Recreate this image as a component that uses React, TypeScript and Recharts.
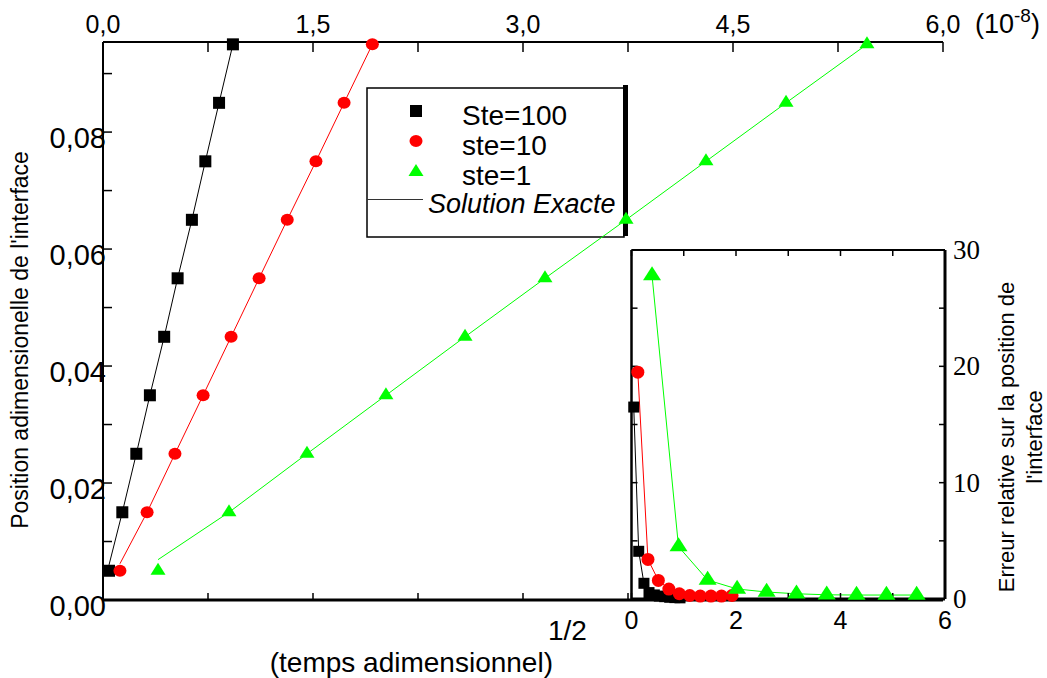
import React from 'react';
import { LineChart, Line, XAxis, YAxis, ReferenceArea, Customized } from 'recharts';

const W = 1047;
const H = 678;
const FONT = '"Liberation Sans", Arial, Helvetica, sans-serif';
const SERIF = '"Liberation Serif", "Times New Roman", serif';

// ---------- labels ----------
const seriesNames = ['Ste=100', 'ste=10', 'ste=1'];
const exactName = 'Solution Exacte';
const leftTitle = "Position adimensionelle de l'interface";
const rightTitle1 = 'Erreur relative sur la position de';
const rightTitle2 = "l'interface";
const bottomTitle = '(temps adimensionnel)';
const bottomExp = '1/2';
const topUnit = '(10';
const topUnitExp = '-8';

// ---------- ticks ----------
const timeTicks = [0, 0.75, 1.5, 2.25, 3, 3.75, 4.5, 5.25, 6];
const timeLabels = [0, 1.5, 3, 4.5, 6];
const posTicks = [0, 0.01, 0.02, 0.03, 0.04, 0.05, 0.06, 0.07, 0.08, 0.09];
const posLabels = [0, 0.02, 0.04, 0.06, 0.08];
const errXTicks = [0, 1, 2, 3, 4, 5, 6];
const errXLabels = [0, 2, 4, 6];
const errYTicks = [0, 5, 10, 15, 20, 25, 30];
const errYLabels = [0, 10, 20, 30];

// ---------- data ----------
const timesBlack = [0.043, 0.138, 0.238, 0.335, 0.437, 0.533, 0.635, 0.731, 0.829, 0.928];
const timesRed = [0.121, 0.315, 0.514, 0.715, 0.915, 1.115, 1.316, 1.521, 1.722, 1.924];
const timesGreen = [0.393, 0.9, 1.457, 2.021, 2.586, 3.157, 3.736, 4.307, 4.879, 5.457];

const positions = [0.005, 0.015, 0.025, 0.035, 0.045, 0.055, 0.065, 0.075, 0.085, 0.095];
const exactBlack = [0.006, 0.015, 0.025, 0.035, 0.045, 0.055, 0.065, 0.075, 0.085, 0.095];
const exactRed = [0.0062, 0.015, 0.025, 0.035, 0.045, 0.055, 0.065, 0.075, 0.085, 0.095];
const exactGreen = [0.0069, 0.015, 0.025, 0.035, 0.045, 0.055, 0.065, 0.075, 0.085, 0.095];

const errBlack = [16.5, 4.1, 1.35, 0.55, 0.35, 0.25, 0.2, 0.15, 0.12, 0.1];
const errRed = [19.5, 3.4, 1.6, 0.85, 0.45, 0.3, 0.25, 0.25, 0.25, 0.3];
const errGreen = [27.8, 4.5, 1.63, 0.86, 0.6, 0.45, 0.36, 0.34, 0.34, 0.34];

const mk = (xs: number[], ys: number[]) => xs.map((x, i) => ({ x, y: ys[i] }));

const blackPts = mk(timesBlack, positions);
const redPts = mk(timesRed, positions);
const greenPts = mk(timesGreen, positions);
const blackExact = mk(timesBlack, exactBlack);
const redExact = mk(timesRed, exactRed);
const greenExact = mk(timesGreen, exactGreen);
const blackErr = mk(timesBlack, errBlack);
const redErr = mk(timesRed, errRed);
const greenErr = mk(timesGreen, errGreen);

const BLACK = '#000000';
const RED = '#ff0000';
const GREEN = '#00ff00';

// ---------- marker shapes ----------
const squareShape = (cx: number, cy: number, s: number, key?: any) => (
  <rect key={key} x={cx - s / 2} y={cy - s / 2} width={s} height={s} fill={BLACK} />
);
const circleShape = (cx: number, cy: number, rx: number, ry: number, key?: any) => (
  <ellipse key={key} cx={cx} cy={cy} rx={rx} ry={ry} fill={RED} />
);
const triShape = (cx: number, cy: number, w: number, h: number, key?: any) => (
  <polygon
    key={key}
    points={`${cx},${cy - (h * 2) / 3} ${cx - w / 2},${cy + h / 3} ${cx + w / 2},${cy + h / 3}`}
    fill={GREEN}
  />
);

const squareDot = (s: number) => (p: any) =>
  p.cx == null ? <g key={`sq${p.index}`} /> : squareShape(p.cx, p.cy, s, `sq${p.index}`);
const circleDot = (rx: number, ry: number) => (p: any) =>
  p.cx == null ? <g key={`ci${p.index}`} /> : circleShape(p.cx, p.cy, rx, ry, `ci${p.index}`);
const triDot = (w: number, h: number) => (p: any) =>
  p.cx == null ? <g key={`tr${p.index}`} /> : triShape(p.cx, p.cy, w, h, `tr${p.index}`);

const near = (arr: number[], v: number) => arr.some((a) => Math.abs(a - v) < 1e-6);

// ---------- ticks renderers ----------
const TopTick = (props: any) => {
  const { x, y, payload } = props;
  const v = payload.value;
  if (!near(timeLabels, v)) return <g />;
  return (
    <text x={x} y={y} textAnchor="middle" fontFamily={FONT} fontSize={25} fill="#000">
      {v.toFixed(1).replace('.', ',')}
    </text>
  );
};

const LeftTick = (props: any) => {
  const { x, y, payload } = props;
  const v = payload.value;
  if (!near(posLabels, v)) return <g />;
  return (
    <text x={x} y={y + 15.5} textAnchor="end" fontFamily={FONT} fontSize={29} fill="#000">
      {v.toFixed(2).replace('.', ',')}
    </text>
  );
};

const EmptyTick = () => <g />;

const InsetBottomTick = (props: any) => {
  const { x, y, payload } = props;
  const v = payload.value;
  if (!near(errXLabels, v)) return <g />;
  return (
    <text x={x} y={y} textAnchor="middle" fontFamily={FONT} fontSize={25} fill="#000">
      {String(v)}
    </text>
  );
};

const InsetRightTick = (props: any) => {
  const { x, y, payload } = props;
  const v = payload.value;
  if (!near(errYLabels, v)) return <g />;
  return (
    <text x={x} y={y + 9} textAnchor="start" fontFamily={SERIF} fontSize={27} fill="#000">
      {String(v)}
    </text>
  );
};

// ---------- decorations ----------
const Decorations = () => (
  <g>
    {/* legend */}
    <rect x={367} y={88} width={257} height={149} fill="#fff" stroke="#000" strokeWidth={1.5} />
    <rect x={623} y={85} width={5} height={151} fill="#000" />
    {squareShape(416, 111, 12)}
    {circleShape(416, 141, 6.5, 6)}
    {triShape(416, 172, 15, 12)}
    <text x={462} y={125} fontFamily={FONT} fontSize={28} fill="#000">{seriesNames[0]}</text>
    <text x={462} y={155} fontFamily={FONT} fontSize={28} fill="#000">{seriesNames[1]}</text>
    <text x={462} y={185} fontFamily={FONT} fontSize={28} fill="#000">{seriesNames[2]}</text>
    <line x1={367} x2={423} y1={199.5} y2={199.5} stroke="#333" strokeWidth={1} />
    <text x={428} y={213} fontFamily={FONT} fontSize={27} fontStyle="italic" fill="#000">{exactName}</text>

    {/* top unit */}
    <text x={975} y={33} fontFamily={FONT} fontSize={27} fill="#000">
      {topUnit}
      <tspan fontSize={19} dy={-11}>{topUnitExp}</tspan>
      <tspan fontSize={27} dy={11}>)</tspan>
    </text>

    {/* left title */}
    <text
      x={20}
      y={340}
      transform="rotate(-90 20 340)"
      textAnchor="middle"
      dominantBaseline="central"
      fontFamily={FONT}
      fontSize={23}
      fill="#000"
    >
      {leftTitle}
    </text>

    {/* right title */}
    <text
      x={1006}
      y={437}
      transform="rotate(-90 1006 437)"
      textAnchor="middle"
      dominantBaseline="central"
      fontFamily={FONT}
      fontSize={22}
      fill="#000"
    >
      {rightTitle1}
    </text>
    <text
      x={1034}
      y={437}
      transform="rotate(-90 1034 437)"
      textAnchor="middle"
      dominantBaseline="central"
      fontFamily={FONT}
      fontSize={22}
      fill="#000"
    >
      {rightTitle2}
    </text>

    {/* bottom title */}
    <text x={553} y={672} textAnchor="end" fontFamily={FONT} fontSize={28} fill="#000">{bottomTitle}</text>
    <text x={548} y={640} textAnchor="start" fontFamily={FONT} fontSize={28} fill="#000">{bottomExp}</text>
  </g>
);

export default function App() {
  return (
    <div style={{ position: 'absolute', left: 0, top: 0, width: W, height: H, background: '#fff' }}>
      {/* main chart */}
      <div style={{ position: 'absolute', left: 0, top: 0 }}>
        <LineChart width={W} height={H} margin={{ top: 0, right: 104, bottom: 0, left: 0 }}>
          <XAxis
            xAxisId="t"
            orientation="top"
            type="number"
            dataKey="x"
            domain={[0, 6]}
            ticks={timeTicks}
            height={42}
            tickSize={-10}
            tickMargin={19}
            tick={<TopTick />}
            axisLine={{ stroke: '#000', strokeWidth: 2 }}
            tickLine={{ stroke: '#000', strokeWidth: 1.5 }}
            interval={0}
          />
          <XAxis
            xAxisId="b"
            orientation="bottom"
            type="number"
            dataKey="x"
            domain={[0, 6]}
            ticks={timeTicks}
            height={78}
            tickSize={-7}
            tick={<EmptyTick />}
            axisLine={{ stroke: '#000', strokeWidth: 3 }}
            tickLine={{ stroke: '#000', strokeWidth: 1.5 }}
            interval={0}
          />
          <YAxis
            yAxisId="l"
            orientation="left"
            type="number"
            width={103}
            domain={[0, 0.0954]}
            ticks={posTicks}
            tickSize={-9}
            tickMargin={6}
            tick={<LeftTick />}
            axisLine={{ stroke: '#000', strokeWidth: 2 }}
            tickLine={{ stroke: '#000', strokeWidth: 1.5 }}
            interval={0}
          />
          <Line xAxisId="b" yAxisId="l" data={blackExact} dataKey="y" stroke={BLACK} strokeWidth={1} dot={false} activeDot={false} isAnimationActive={false} />
          <Line xAxisId="t" yAxisId="l" data={redExact} dataKey="y" stroke={RED} strokeWidth={1} dot={false} activeDot={false} isAnimationActive={false} />
          <Line xAxisId="t" yAxisId="l" data={greenExact} dataKey="y" stroke={GREEN} strokeWidth={1} dot={false} activeDot={false} isAnimationActive={false} />
          <Line xAxisId="t" yAxisId="l" data={blackPts} dataKey="y" name={seriesNames[0]} stroke="none" dot={squareDot(12)} activeDot={false} isAnimationActive={false} />
          <Line xAxisId="t" yAxisId="l" data={redPts} dataKey="y" name={seriesNames[1]} stroke="none" dot={circleDot(6.5, 6)} activeDot={false} isAnimationActive={false} />
          <Line xAxisId="t" yAxisId="l" data={greenPts} dataKey="y" name={seriesNames[2]} stroke="none" dot={triDot(15, 12)} activeDot={false} isAnimationActive={false} />
          <Customized component={<Decorations />} />
        </LineChart>
      </div>

      {/* inset chart */}
      <div style={{ position: 'absolute', left: 0, top: 0 }}>
        <LineChart width={W} height={H} margin={{ top: 0, right: 0, bottom: 0, left: 0 }}>
          <ReferenceArea xAxisId="b" yAxisId="l" x1={0} x2={6} y1={0} y2={30} fill="#fff" fillOpacity={1} stroke="none" />
          <XAxis
            xAxisId="b"
            orientation="bottom"
            type="number"
            dataKey="x"
            domain={[0, 6]}
            ticks={errXTicks}
            height={79}
            tickSize={-6}
            tickMargin={36}
            tick={<InsetBottomTick />}
            axisLine={{ stroke: '#000', strokeWidth: 3 }}
            tickLine={{ stroke: '#000', strokeWidth: 1.5 }}
            interval={0}
          />
          <XAxis
            xAxisId="t"
            orientation="top"
            type="number"
            dataKey="x"
            domain={[0, 6]}
            ticks={errXTicks}
            height={250}
            tickSize={-6}
            tick={<EmptyTick />}
            axisLine={{ stroke: '#000', strokeWidth: 2 }}
            tickLine={{ stroke: '#000', strokeWidth: 1.5 }}
            interval={0}
          />
          <YAxis
            yAxisId="l"
            orientation="left"
            type="number"
            width={631.5}
            domain={[0, 30]}
            ticks={errYTicks}
            tickSize={-6}
            tick={<EmptyTick />}
            axisLine={{ stroke: '#000', strokeWidth: 2.5 }}
            tickLine={{ stroke: '#000', strokeWidth: 1.5 }}
            interval={0}
          />
          <YAxis
            yAxisId="r"
            orientation="right"
            type="number"
            width={102}
            domain={[0, 30]}
            ticks={errYTicks}
            tickSize={-6}
            tickMargin={14}
            tick={<InsetRightTick />}
            axisLine={{ stroke: '#000', strokeWidth: 3 }}
            tickLine={{ stroke: '#000', strokeWidth: 1.5 }}
            interval={0}
          />
          <Line xAxisId="t" yAxisId="l" data={blackErr} dataKey="y" stroke={BLACK} strokeWidth={1} dot={squareDot(11)} activeDot={false} isAnimationActive={false} />
          <Line xAxisId="b" yAxisId="r" data={redErr} dataKey="y" stroke={RED} strokeWidth={1} dot={circleDot(6.5, 6.5)} activeDot={false} isAnimationActive={false} />
          <Line xAxisId="b" yAxisId="l" data={greenErr} dataKey="y" stroke={GREEN} strokeWidth={1} dot={triDot(18, 14)} activeDot={false} isAnimationActive={false} />
        </LineChart>
      </div>
    </div>
  );
}
